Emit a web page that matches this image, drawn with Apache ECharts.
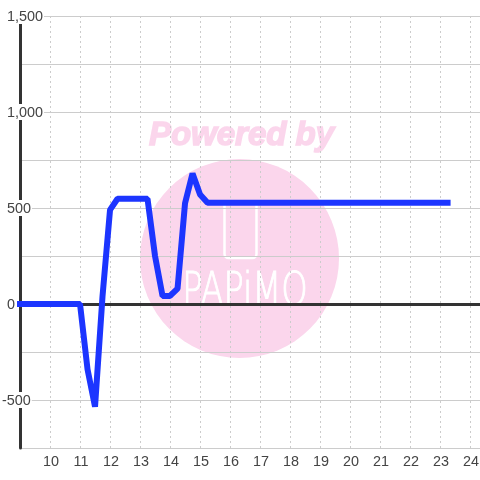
<!DOCTYPE html>
<html>
<head>
<meta charset="UTF-8">
<script src="https://cdn.jsdelivr.net/npm/echarts@6/dist/echarts.min.js"></script>
<style>html,body{margin:0;background:#fff}#box{width:480px;height:480px}</style>
</head>
<body>
<div id="box"></div>
<script>
// time of day in hours, one reading every quarter
var hours = [9, 9.25, 9.5, 9.75, 10, 10.25, 10.5, 10.75, 11, 11.25, 11.5, 11.75,
    12, 12.25, 12.5, 12.75, 13, 13.25, 13.5, 13.75, 14, 14.25, 14.5, 14.75,
    15, 15.25, 15.5, 15.75, 16, 16.25, 16.5, 16.75, 17, 17.25, 17.5, 17.75,
    18, 18.25, 18.5, 18.75, 19, 19.25, 19.5, 19.75, 20, 20.25, 20.5, 20.75,
    21, 21.25, 21.5, 21.75, 22, 22.25, 22.5, 22.75, 23, 23.25];
var values = [0, 0, 0, 0, 0, 0, 0, 0, 0, -340, -535, 40,
    490, 548, 548, 548, 548, 548, 250, 42, 42, 80, 525, 680,
    570, 527, 527, 527, 527, 527, 527, 527, 527, 527, 527, 527,
    527, 527, 527, 527, 527, 527, 527, 527, 527, 527, 527, 527,
    527, 527, 527, 527, 527, 527, 527, 527, 527, 527];
var yLabels = [1500, 1000, 500, 0, -500];

var points = hours.map(function (h, i) { return [h, values[i]]; });
var pink = '#fbd6ec';
var font = '"Liberation Sans", Arial, sans-serif';

var chart = echarts.init(document.getElementById('box'));
chart.setOption({
    animation: false,
    grid: { left: 20, right: 0, top: 16, bottom: 32, outerBoundsMode: 'none' },
    graphic: [
        { type: 'circle', z: -10, shape: { cx: 239.5, cy: 258.5, r: 99.5 }, style: { fill: pink } },
        { type: 'text', z: -10, x: 241.5, y: 136, style: {
            text: 'Powered by', fill: pink, stroke: pink, lineWidth: 1.5, align: 'center', verticalAlign: 'middle',
            font: 'italic bold 33px "Liberation Sans"' } },
        { type: 'rect', z: -9, shape: { x: 224.5, y: 202, width: 32, height: 56, r: 4 },
            style: { fill: 'none', stroke: '#fff', lineWidth: 2.5 } },
        { type: 'text', z: -9, x: 245, y: 293, scaleX: 0.73, style: {
            text: 'PAPiMO', fill: '#fff', stroke: '#fff', lineWidth: 1, align: 'center', verticalAlign: 'middle',
            font: '200 46px "DejaVu Sans ExtraLight", "DejaVu Sans"' } }
    ],
    xAxis: [{
        type: 'value', min: 9, max: 24.33, interval: 1,
        axisLine: { show: false, onZero: false },
        axisTick: { show: false },
        splitLine: { show: true, lineStyle: { color: '#ccc', type: [2, 3] } },
        axisLabel: {
            color: '#444', fontSize: 14.4, fontFamily: font, margin: 7, padding: [0, 0, 0, 2],
            showMinLabel: false,
            formatter: function (v) { return v % 1 === 0 && v > 9 ? String(v) : ''; }
        }
    }, {
        // the heavy zero line, labels stay on the bottom axis
        type: 'value', min: 9, max: 24.33, interval: 1, position: 'bottom',
        axisLine: { show: true, onZero: true, lineStyle: { color: '#333', width: 3 } },
        axisTick: { show: false }, axisLabel: { show: false }, splitLine: { show: false }
    }],
    yAxis: {
        type: 'value', min: -750, max: 1500, interval: 250,
        axisLine: { show: true, onZero: false, lineStyle: { color: '#333', width: 3 } },
        axisTick: { show: false },
        splitLine: { show: true, lineStyle: { color: '#ccc', width: 1 } },
        axisLabel: {
            margin: 18, align: 'left', color: '#444', fontSize: 14.4, fontFamily: font,
            formatter: function (v) {
                if (yLabels.indexOf(v) < 0) return '';
                var s = v.toLocaleString('en-US');
                return v < 0 ? '{n|' + s + '}' : '{p|' + s + '}';
            },
            rich: {
                n: { color: '#444', fontSize: 14.4, fontFamily: font, backgroundColor: '#fff', padding: [2, 1, 0, 0] },
                p: { color: '#444', fontSize: 14.4, fontFamily: font, backgroundColor: '#fff', padding: [2, 1, 0, 5] }
            }
        }
    },
    series: [{
        type: 'line', data: points, xAxisIndex: 0, showSymbol: false, symbol: 'none', clip: false,
        lineStyle: { color: '#1c35ff', width: 6, cap: 'square' }
    }]
});
</script>
</body>
</html>
